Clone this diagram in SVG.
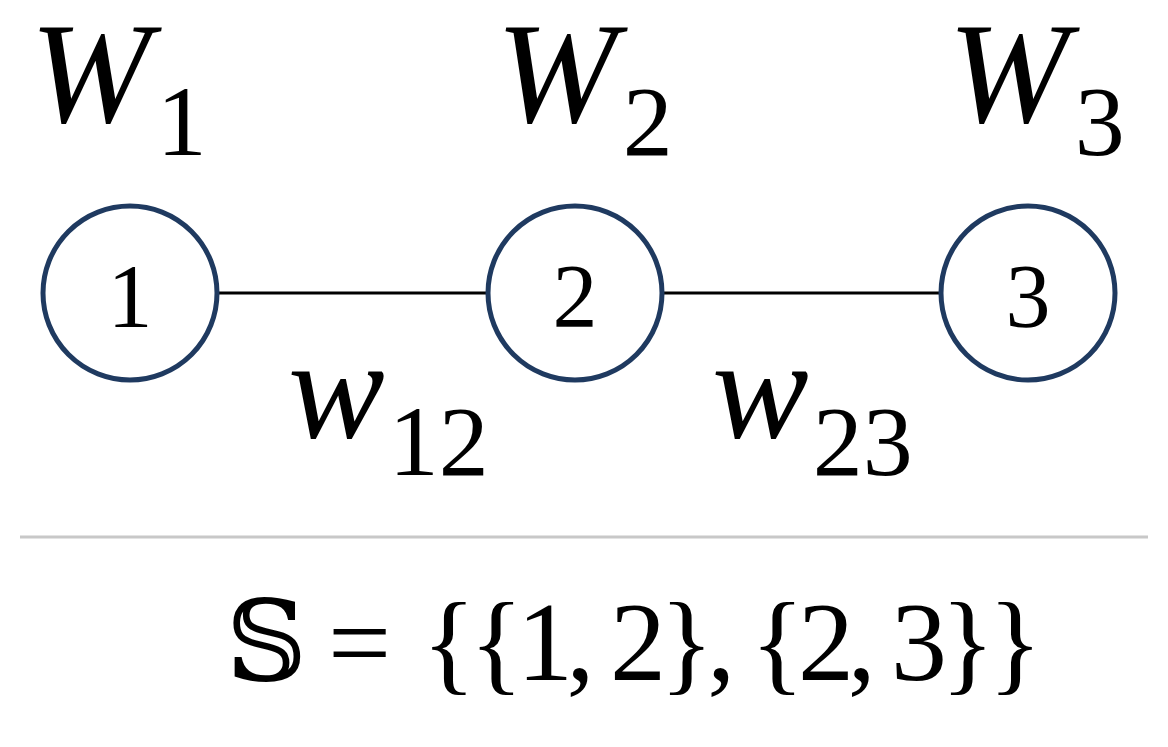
<svg xmlns="http://www.w3.org/2000/svg" width="1168" height="747" viewBox="0 0 1168 747">
<style>
.n{fill:#fff;stroke:#1f3a60;stroke-width:5}
.t{font-family:"Liberation Serif","Times New Roman","DejaVu Serif",serif;fill:#000}
.i{font-style:italic}
</style>
<rect width="1168" height="747" fill="#fff"/>
<g id="edges" stroke="#000" stroke-width="3">
<line x1="218" y1="293" x2="487" y2="293"/>
<line x1="663" y1="293" x2="940" y2="293"/>
</g>
<g id="node1"><circle class="n" cx="130" cy="293" r="87"/><text class="t" x="130" y="327" font-size="90" text-anchor="middle">1</text></g>
<g id="node2"><circle class="n" cx="575" cy="293" r="87"/><text class="t" x="575" y="327" font-size="90" text-anchor="middle">2</text></g>
<g id="node3"><circle class="n" cx="1028" cy="293" r="87"/><text class="t" x="1028" y="327" font-size="90" text-anchor="middle">3</text></g>
<g id="labels">
<text class="t" x="30" y="122" font-size="145"><tspan class="i">W</tspan><tspan font-size="100" dy="33" dx="6">1</tspan></text>
<text class="t" x="496" y="122" font-size="145"><tspan class="i">W</tspan><tspan font-size="100" dy="33" dx="6">2</tspan></text>
<text class="t" x="948" y="122" font-size="145"><tspan class="i">W</tspan><tspan font-size="100" dy="33" dx="6">3</tspan></text>
<text class="t" x="288" y="438" font-size="145"><tspan class="i">w</tspan><tspan font-size="100" dy="37" dx="4">12</tspan></text>
<text class="t" x="712" y="438" font-size="145"><tspan class="i">w</tspan><tspan font-size="100" dy="37" dx="4">23</tspan></text>
</g>
<line x1="20" y1="537" x2="1148" y2="537" stroke="#c8c8c8" stroke-width="3"/>
<g id="formula">
<text class="t" x="226" y="680" font-size="112">𝕊</text>
<text class="t" x="328" y="680" font-size="112" textLength="68">=</text>
<text class="t" x="422" y="680" font-size="112" textLength="620">{{1, 2}, {2, 3}}</text>
</g>
</svg>
